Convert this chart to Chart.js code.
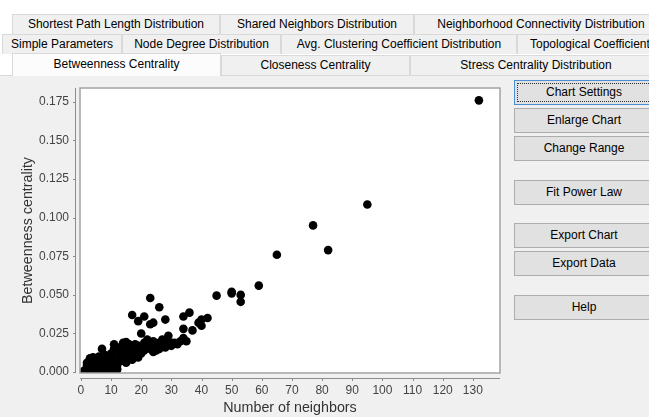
<!DOCTYPE html>
<html>
<head>
<meta charset="utf-8">
<script src="https://cdn.jsdelivr.net/npm/chart.js@4.4.1/dist/chart.umd.min.js"></script>
<style>
  body { margin: 0; width: 649px; height: 417px; overflow: hidden; position: relative;
         background: #fff; font-family: "Liberation Sans", Arial, sans-serif; font-size: 12px; color: #000; }
  .tab { position: absolute; box-sizing: border-box; height: 20px; line-height: 19px; text-align: center;
         background: #f0f0f0; border: 1px solid #d9d9d9; border-bottom: none; white-space: nowrap; overflow: hidden; }
  .tab.sel { background: #fcfcfc; height: 23px; line-height: 21px; border-color: #d9d9d9; z-index: 2; }
  #panel { position: absolute; left: 0; top: 75px; width: 649px; height: 342px; background: #f0f0f0;
           border-top: 1px solid #d9d9d9; }
  .btn { position: absolute; left: 514px; width: 140px; height: 25px; box-sizing: border-box; line-height: 23px;
         text-align: center; background: #e1e1e1; border: 1px solid #adadad; }
  .btn.focus { border-color: #4c8fd6; }
  .btn.focus span { position: absolute; left: 2px; top: 2px; right: 2px; bottom: 2px; border: 1px dotted #333; line-height: 17px; }
  #wrap { position: absolute; left: 0; top: 78px; width: 510px; height: 339px; }
</style>
</head>
<body>
<div id="panel"></div>

<div class="tab" style="left:12px;top:14px;width:208px;">Shortest Path Length Distribution</div>
<div class="tab" style="left:220px;top:14px;width:194px;">Shared Neighbors Distribution</div>
<div class="tab" style="left:414px;top:14px;width:254px;">Neighborhood Connectivity Distribution</div>

<div class="tab" style="left:2px;top:34px;width:120px;">Simple Parameters</div>
<div class="tab" style="left:122px;top:34px;width:159px;">Node Degree Distribution</div>
<div class="tab" style="left:281px;top:34px;width:236px;">Avg. Clustering Coefficient Distribution</div>
<div class="tab" style="left:517px;top:34px;width:152px;text-align:left;padding-left:12px;">Topological Coefficients</div>

<div class="tab sel" style="left:12px;top:53px;width:209px;">Betweenness Centrality</div>
<div class="tab" style="left:221px;top:55px;width:189px;">Closeness Centrality</div>
<div class="tab" style="left:410px;top:55px;width:252px;">Stress Centrality Distribution</div>

<div class="btn focus" style="top:80px;"><span>Chart Settings</span></div>
<div class="btn" style="top:108px;">Enlarge Chart</div>
<div class="btn" style="top:136px;">Change Range</div>
<div class="btn" style="top:180px;">Fit Power Law</div>
<div class="btn" style="top:223px;">Export Chart</div>
<div class="btn" style="top:251px;">Export Data</div>
<div class="btn" style="top:295px;">Help</div>

<div id="wrap"><canvas id="chart" width="510" height="339"></canvas></div>

<script>
// number of neighbors per node (x) and its betweenness centrality (y)
const neighbors = [
    1, 1, 2, 2, 2, 2, 3, 3, 3, 3, 3, 4, 4, 4, 4, 4, 5, 5, 5, 5, 5,
    6, 6, 6, 6, 6, 7, 7, 7, 7, 7, 8, 8, 8, 8, 9, 9, 9, 9, 10, 10, 10, 10,
    11, 11, 11, 12, 12, 12,
    10, 11, 11, 12, 12, 13, 13, 13, 14, 14, 14, 15, 15, 15, 15, 16, 16, 16,
    17, 17, 17, 18, 18, 18, 19, 19, 19, 20, 20, 21, 21, 22, 22,
    23, 23, 24, 24, 25, 25, 26, 26, 27, 27, 28, 28, 29, 30, 30, 31, 32, 33, 35, 34,
    7, 23, 26, 17, 21, 19, 23, 24, 28, 34, 36, 34, 29, 20, 37, 39, 40, 40, 42,
    45, 50, 50, 53, 53, 59, 65, 77, 82, 95, 132
];
const betweenness = [
    0.0002, 0.0008, 0.0003, 0.002, 0.004, 0.006, 0.0005, 0.003, 0.006, 0.008, 0.009,
    0.001, 0.004, 0.007, 0.0095, 0.002, 0.0005, 0.003, 0.005, 0.008, 0.0015,
    0.003, 0.006, 0.01, 0.0002, 0.008, 0.002, 0.005, 0.009, 0.0005, 0.007,
    0.001, 0.004, 0.007, 0.011, 0.002, 0.006, 0.009, 0.0003, 0.003, 0.007, 0.011, 0.0002,
    0.004, 0.009, 0.001, 0.002, 0.006, 0.0015,
    0.012, 0.015, 0.018, 0.004, 0.014, 0.007, 0.011, 0.016, 0.009, 0.013, 0.019,
    0.006, 0.011, 0.016, 0.0195, 0.009, 0.013, 0.018,
    0.008, 0.012, 0.016, 0.011, 0.014, 0.018, 0.0095, 0.013, 0.017, 0.012, 0.016,
    0.014, 0.019, 0.017, 0.021,
    0.015, 0.019, 0.013, 0.02, 0.014, 0.017, 0.015, 0.019, 0.017, 0.021, 0.016, 0.019,
    0.018, 0.017, 0.019, 0.019, 0.018, 0.02, 0.02, 0.022,
    0.015, 0.048, 0.042, 0.037, 0.036, 0.033, 0.031, 0.032, 0.034, 0.036, 0.0385, 0.028,
    0.0235, 0.025, 0.027, 0.032, 0.034, 0.03, 0.035,
    0.0495, 0.052, 0.051, 0.05, 0.0455, 0.056, 0.076, 0.095, 0.079, 0.1085, 0.176
];
const xTickValues = [0, 10, 20, 30, 40, 50, 60, 70, 80, 90, 100, 110, 120, 130];
const yTickValues = [0, 0.025, 0.05, 0.075, 0.1, 0.125, 0.15, 0.175];

const points = neighbors.map((n, i) => ({ x: n, y: betweenness[i] }));
const fam = '"Liberation Sans", Arial, sans-serif';

// keep the plot box where the reference has it, whatever the label sizes
function fixSize(s, w, h) {
    if (w) s.width = w;
    if (h) s.height = h;
    s.paddingTop = s.paddingBottom = s.paddingLeft = s.paddingRight = 0;
}

const framePlugin = {
    id: 'frame',
    beforeDatasetsDraw(chart) {
        const { ctx, chartArea: a } = chart;
        ctx.save();
        ctx.fillStyle = '#fff';
        ctx.fillRect(a.left, a.top, a.right - a.left, a.bottom - a.top);
        ctx.restore();
    },
    afterDatasetsDraw(chart) {
        const { ctx, chartArea: a, scales } = chart;
        ctx.save();
        ctx.strokeStyle = '#a3a3a3';
        ctx.lineWidth = 1.5;
        ctx.strokeRect(a.left, a.top, a.right - a.left, a.bottom - a.top);
        // axis lines sit a few pixels away from the plot, like JFreeChart
        ctx.strokeStyle = '#8c8c8c';
        ctx.lineWidth = 1;
        ctx.beginPath();
        const ax = a.left - 4.5, ay = a.bottom + 5.5;
        ctx.moveTo(ax, a.top); ctx.lineTo(ax, a.bottom);
        ctx.moveTo(a.left, ay); ctx.lineTo(a.right, ay);
        yTickValues.forEach(v => {
            const py = Math.round(scales.y.getPixelForValue(v)) + 0.5;
            ctx.moveTo(ax - 2.5, py); ctx.lineTo(ax, py);
        });
        xTickValues.forEach(v => {
            const px = Math.round(scales.x.getPixelForValue(v)) + 0.5;
            ctx.moveTo(px, ay); ctx.lineTo(px, ay + 2.5);
        });
        ctx.stroke();
        ctx.restore();
    }
};

new Chart(document.getElementById('chart'), {
    type: 'scatter',
    data: {
        datasets: [{
            data: points,
            backgroundColor: '#000',
            borderWidth: 0,
            pointRadius: 4.3,
            clip: 0
        }]
    },
    options: {
        responsive: false,
        animation: false,
        events: [],
        layout: { padding: { top: 10, right: 10, left: 0, bottom: 0 } },
        plugins: { legend: { display: false }, tooltip: { enabled: false } },
        scales: {
            x: {
                type: 'linear',
                min: -0.3,
                max: 139,
                afterBuildTicks: s => { s.ticks = xTickValues.map(v => ({ value: v })); },
                afterFit: s => fixSize(s, 0, 44),
                grid: { display: false, drawTicks: false },
                border: { display: false },
                ticks: { padding: 10, color: '#444', font: { size: 12, family: fam } },
                title: { display: true, text: 'Number of neighbors', color: '#333',
                         font: { size: 14.3, family: fam }, padding: { top: 0, bottom: 0 } }
            },
            y: {
                min: -0.0006,
                max: 0.184,
                afterBuildTicks: s => { s.ticks = yTickValues.map(v => ({ value: v })); },
                afterFit: s => fixSize(s, 80, 0),
                grid: { color: '#b0b0b0', lineWidth: 1, drawTicks: false },
                border: { display: false, dash: [2, 2] },
                ticks: { padding: 11, color: '#444', font: { size: 12, family: fam },
                         callback: v => v.toFixed(3) },
                title: { display: true, text: 'Betweenness centrality', color: '#333',
                         font: { size: 14.3, family: fam }, padding: { top: 19.5, bottom: 0 } }
            }
        }
    },
    plugins: [framePlugin]
});
</script>
</body>
</html>
